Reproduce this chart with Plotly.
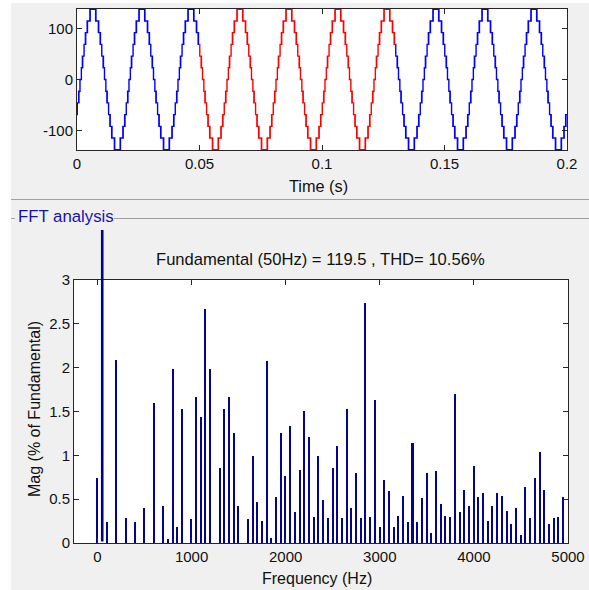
import plotly.graph_objects as go

# ---------------- data ----------------
# Time-domain staircase (one cycle pattern, tiled over the 0..0.2 s record)
PERIOD_S = 0.02
ZERO_CROSS_S = 0.0015            # first rising zero crossing
LEVEL_STEP = 23.0                # volts per level
QUARTER_ANGLES_DEG = [5, 15, 25, 37, 50, 70]   # level-change angles in a quarter cycle
CHATTER_LEVELS = [2, 4, 5, 6]    # transitions that show PWM chatter (thick edges)
FFT_WINDOW_S = [0.05, 0.13]      # red part of the trace (analysed window)
T_END = 0.2

TOP_XTICKS = [0, 0.05, 0.1, 0.15, 0.2]
TOP_XTICKTEXT = ["0", "0.05", "0.1", "0.15", "0.2"]
TOP_YTICKS = [-100, 0, 100]
TOP_YTICKTEXT = ["-100", "0", "100"]

# FFT spectrum (% of fundamental)
FUND_FREQ = 50
FUND_MAG = 100.0
FREQ_HZ = [0, 100, 200, 300, 400, 500, 600, 700, 750, 800, 850, 900,
           1000, 1050, 1100, 1150, 1200, 1300, 1350, 1400, 1450, 1500,
           1600, 1650, 1700, 1750, 1800, 1850, 1900, 1950,
           2000, 2050, 2100, 2150, 2200, 2250, 2300, 2350, 2400, 2450,
           2500, 2550, 2600, 2650, 2700, 2750, 2800, 2850, 2900, 2950,
           3000, 3050, 3100, 3150, 3200, 3250, 3300, 3350, 3400, 3450,
           3500, 3550, 3600, 3650, 3700, 3750, 3800, 3850, 3900, 3950,
           4000, 4050, 4100, 4150, 4200, 4250, 4300, 4350, 4400, 4450,
           4500, 4550, 4600, 4650, 4700, 4750, 4800, 4850, 4900, 4950]
MAG_PCT = [0.74, 0.24, 2.09, 0.28, 0.24, 0.40, 1.60, 0.42, 0.04, 1.99, 0.18, 1.53,
           0.27, 1.67, 1.44, 2.67, 1.99, 0.85, 1.53, 1.66, 1.26, 0.42,
           0.27, 0.99, 0.47, 0.25, 2.08, 0.06, 0.53, 1.26,
           0.77, 1.34, 0.35, 0.83, 1.51, 1.21, 0.30, 0.99, 0.49, 0.28,
           0.85, 1.11, 0.28, 1.53, 0.40, 0.80, 0.28, 2.74, 0.30, 1.63,
           0.18, 0.72, 0.59, 0.18, 0.31, 0.54, 0.24, 1.14, 0.24, 0.51,
           0.80, 0.11, 0.82, 0.44, 0.31, 0.30, 1.70, 0.35, 0.61, 0.42,
           0.88, 0.53, 0.57, 0.25, 0.42, 0.57, 0.54, 0.37, 0.22, 0.40,
           0.09, 0.64, 0.28, 0.74, 1.04, 0.61, 0.22, 0.28, 0.30, 0.53]
FUND_VISIBLE_TOP = 3.57   # where the clipped fundamental bar ends in the panel

TITLE_FFT = "Fundamental (50Hz) = 119.5 , THD= 10.56%"

# ---------------- build staircase ----------------
def half_events():
    ev = []
    for k, th in enumerate(QUARTER_ANGLES_DEG, start=1):
        if k in CHATTER_LEVELS:
            ev += [(th - 2.4, k), (th - 1.4, k - 1)]
        ev.append((th, k))
    for k, th in reversed(list(enumerate(QUARTER_ANGLES_DEG, start=1))):
        a = 180 - th
        ev.append((a, k - 1))
        if k in CHATTER_LEVELS:
            ev += [(a + 1.4, k), (a + 2.4, k - 1)]
    return ev

pos = half_events()
cycle = [(a, l) for a, l in pos] + [(a + 180, -l) for a, l in pos]
events = []
for c in range(-1, 11):
    for a, l in cycle:
        t = ZERO_CROSS_S + (c + a / 360.0) * PERIOD_S
        events.append((t, l * LEVEL_STEP))
events.sort()

def level_at(t):
    v = 0.0
    for te, lv in events:
        if te <= t:
            v = lv
        else:
            break
    return v

def segment(t0, t1):
    xs, ys = [t0], [level_at(t0)]
    for te, lv in events:
        if t0 < te < t1:
            xs.append(te)
            ys.append(lv)
    xs.append(t1)
    ys.append(level_at(t1))
    return xs, ys

segs = [(0.0, FFT_WINDOW_S[0], "#0000FF"),
        (FFT_WINDOW_S[0], FFT_WINDOW_S[1], "#FF0000"),
        (FFT_WINDOW_S[1], T_END, "#0000FF")]

fig = go.Figure()
for t0, t1, col in segs:
    xs, ys = segment(t0, t1)
    fig.add_trace(go.Scatter(x=xs, y=ys, mode="lines",
                             line=dict(color=col, width=1.4, shape="hv"),
                             xaxis="x", yaxis="y", showlegend=False, hoverinfo="skip"))

BAR_COLOR = "rgb(0,0,143)"
fig.add_trace(go.Bar(x=FREQ_HZ, y=MAG_PCT, width=16,
                     marker=dict(color=BAR_COLOR, opacity=0.99, line=dict(width=0)),
                     xaxis="x2", yaxis="y2", showlegend=False, hoverinfo="skip"))

W, H = 589, 590
def px(x): return x / W
def py(y): return 1 - y / H

FONT = "Liberation Sans, Arial, sans-serif"
TXT = "#111111"
AX = "#262626"
axis_common = dict(showgrid=False, zeroline=False, showline=True, mirror="ticks",
                   ticks="inside", ticklen=5, tickwidth=1, tickcolor=AX,
                   linecolor=AX, linewidth=1, automargin=False,
                   tickfont=dict(family=FONT, size=15, color=TXT))

fig.update_layout(
    template="none",
    width=W, height=H, autosize=False,
    margin=dict(l=0, r=0, t=0, b=0, pad=0),
    paper_bgcolor="#F0F0F0", plot_bgcolor="#FFFFFF",
    barmode="overlay", bargap=0,
    xaxis=dict(domain=[px(77), px(567)], range=[0, T_END], anchor="y",
               tickvals=TOP_XTICKS, ticktext=TOP_XTICKTEXT, **axis_common),
    yaxis=dict(domain=[py(150), py(9)], range=[-138.5, 138.5], anchor="x",
               tickvals=TOP_YTICKS, ticktext=TOP_YTICKTEXT, **axis_common),
    xaxis2=dict(domain=[px(74), px(568)], range=[-250, 5000], anchor="y2",
                tickvals=[0, 1000, 2000, 3000, 4000, 5000], **axis_common),
    yaxis2=dict(domain=[py(543), py(280)], range=[0, 3], anchor="x2",
                tickvals=[0, 0.5, 1, 1.5, 2, 2.5, 3],
                ticktext=["0", "0.5", "1", "1.5", "2", "2.5", "3"], **axis_common),
    shapes=[
        dict(type="rect", xref="paper", yref="paper", x0=0, x1=px(11), y0=0, y1=1,
             fillcolor="#FFFFFF", line=dict(width=0), layer="below"),
        dict(type="rect", xref="paper", yref="paper", x0=0, x1=1, y0=py(3), y1=1,
             fillcolor="#FFFFFF", line=dict(width=0), layer="below"),
        dict(type="line", xref="paper", yref="paper", x0=px(11), x1=1, y0=py(199.5), y1=py(199.5),
             line=dict(color="#A0A0A0", width=1)),
        dict(type="line", xref="paper", yref="paper", x0=px(11), x1=px(15), y0=py(218.5), y1=py(218.5),
             line=dict(color="#A0A0A0", width=1)),
        dict(type="line", xref="paper", yref="paper", x0=px(114), x1=1, y0=py(218.5), y1=py(218.5),
             line=dict(color="#A0A0A0", width=1)),
    ],
    annotations=[
        # fundamental bar: runs off the top of the axes (unclipped, ends in the panel)
        dict(text="", xref="x2", yref="y2", axref="x2", ayref="y2",
             x=FUND_FREQ, y=min(FUND_MAG, FUND_VISIBLE_TOP), ax=FUND_FREQ, ay=0,
             showarrow=True, arrowhead=0, arrowwidth=2.6, arrowcolor=BAR_COLOR,
             standoff=0, startstandoff=0),
        dict(text="Time (s)", xref="paper", yref="paper", x=px(318), y=py(186),
             showarrow=False, xanchor="center", yanchor="middle",
             font=dict(family=FONT, size=16.3, color=TXT)),
        dict(text="FFT analysis", xref="paper", yref="paper", x=px(16), y=py(217),
             showarrow=False, xanchor="left", yanchor="middle",
             font=dict(family=FONT, size=16.8, color="rgb(20,20,170)")),
        dict(text=TITLE_FFT, xref="paper", yref="paper", x=px(320), y=py(260),
             showarrow=False, xanchor="center", yanchor="middle",
             font=dict(family=FONT, size=16.6, color=TXT)),
        dict(text="Frequency (Hz)", xref="paper", yref="paper", x=px(317), y=py(578),
             showarrow=False, xanchor="center", yanchor="middle",
             font=dict(family=FONT, size=16, color=TXT)),
        dict(text="Mag (% of Fundamental)", xref="paper", yref="paper", x=px(35), y=py(409),
             showarrow=False, xanchor="center", yanchor="middle", textangle=-90,
             font=dict(family=FONT, size=16, color=TXT)),
    ],
)

fig.write_html("out.html", config={"displayModeBar": False},
               post_script="document.body.style.margin='0';document.body.style.overflow='hidden';")
